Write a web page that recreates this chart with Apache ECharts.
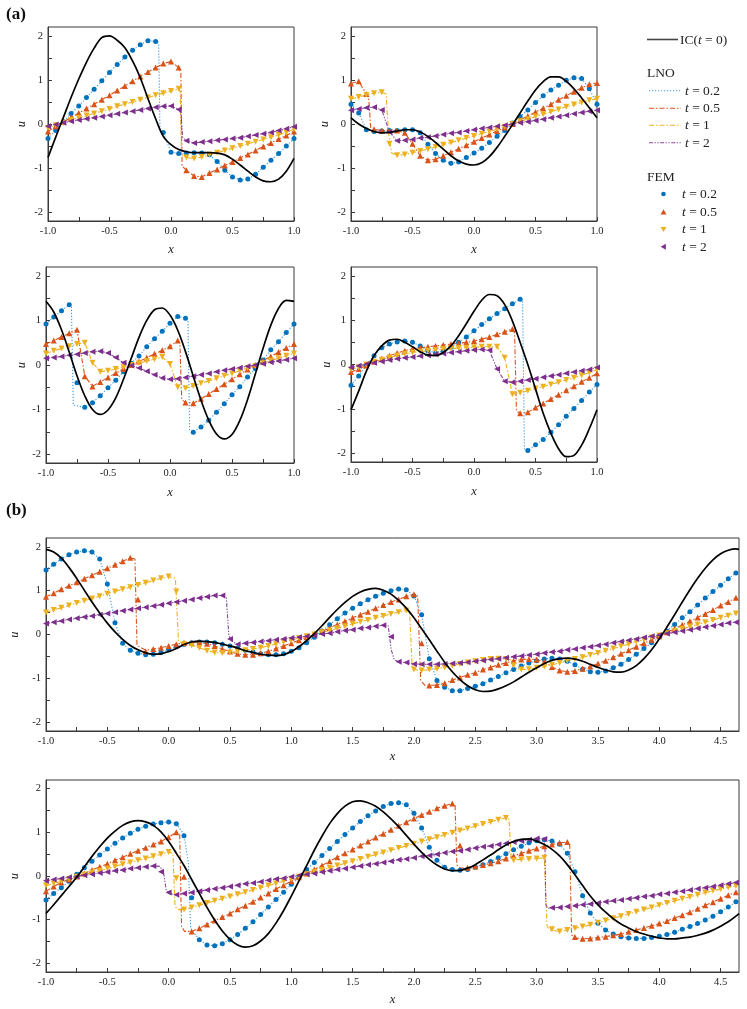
<!DOCTYPE html>
<html>
<head>
<meta charset="utf-8">
<script src="https://cdn.jsdelivr.net/npm/echarts@6/dist/echarts.min.js"></script>
<style>
html,body{margin:0;padding:0;background:#fff;}
#chart{width:747px;height:1009px;}
</style>
</head>
<body>
<div id="chart"></div>
<script>
// ---------------- DATA ----------------
// x sampling grid of the FEM markers (panel a: [-1,1], panel b: [-1,4.65])
const xTop = [-1,-0.9375,-0.875,-0.8125,-0.75,-0.6875,-0.625,-0.5625,-0.5,-0.4375,-0.375,-0.3125,-0.25,-0.1875,-0.125,-0.0625,0,0.0625,0.125,0.1875,0.25,0.3125,0.375,0.4375,0.5,0.5625,0.625,0.6875,0.75,0.8125,0.875,0.9375,1];
const xBot = [-1,-0.9375,-0.875,-0.8125,-0.75,-0.6875,-0.625,-0.5625,-0.5,-0.4375,-0.375,-0.3125,-0.25,-0.1875,-0.125,-0.0625,0,0.0625,0.125,0.1875,0.25,0.3125,0.375,0.4375,0.5,0.5625,0.625,0.6875,0.75,0.8125,0.875,0.9375,1,1.0625,1.125,1.1875,1.25,1.3125,1.375,1.4375,1.5,1.5625,1.625,1.6875,1.75,1.8125,1.875,1.9375,2,2.0625,2.125,2.1875,2.25,2.3125,2.375,2.4375,2.5,2.5625,2.625,2.6875,2.75,2.8125,2.875,2.9375,3,3.0625,3.125,3.1875,3.25,3.3125,3.375,3.4375,3.5,3.5625,3.625,3.6875,3.75,3.8125,3.875,3.9375,4,4.0625,4.125,4.1875,4.25,4.3125,4.375,4.4375,4.5,4.5625,4.625];
const xBotEnd = 4.65;

// tick values / tick labels
const xTicksTop = [-1,-0.75,-0.5,-0.25,0,0.25,0.5,0.75,1];
const xLabelsTop = [-1,-0.5,0,0.5,1];
const xTicksBot = [-1,-0.75,-0.5,-0.25,0,0.25,0.5,0.75,1,1.25,1.5,1.75,2,2.25,2.5,2.75,3,3.25,3.5,3.75,4,4.25,4.5];
const xLabelsBot = [-1,-0.5,0,0.5,1,1.5,2,2.5,3,3.5,4,4.5];
const yTicks = [-2,-1.5,-1,-0.5,0,0.5,1,1.5,2];
const yLabels = [-2,-1,0,1,2];

// ---- panel (a), top-left ----
const A1_IC  = [-0.76,-0.30,0.15,0.60,1.02,1.40,1.72,1.96,2.00,1.90,1.73,1.43,1.05,0.58,0.12,-0.28,-0.47,-0.58,-0.63,-0.65,-0.65,-0.65,-0.66,-0.70,-0.80,-0.93,-1.07,-1.20,-1.29,-1.31,-1.25,-1.07,-0.78];
const A1_T02 = [-0.33,-0.15,0.05,0.24,0.41,0.60,0.79,0.98,1.17,1.35,1.52,1.67,1.80,1.89,1.87,-0.19,-0.64,-0.67,-0.66,-0.65,-0.66,-0.70,-0.85,-1.05,-1.20,-1.27,-1.25,-1.14,-0.98,-0.82,-0.67,-0.50,-0.33];
const A1_T05 = [-0.17,-0.05,0.05,0.15,0.25,0.35,0.45,0.55,0.65,0.76,0.86,0.97,1.08,1.18,1.28,1.37,1.42,1.28,-1.05,-1.18,-1.20,-1.11,-1.03,-0.94,-0.86,-0.77,-0.69,-0.60,-0.51,-0.43,-0.34,-0.26,-0.17];
const A1_T1  = [-0.09,-0.03,0.03,0.09,0.14,0.19,0.24,0.29,0.34,0.40,0.45,0.50,0.55,0.60,0.65,0.70,0.75,0.80,-0.76,-0.78,-0.75,-0.70,-0.65,-0.60,-0.55,-0.50,-0.45,-0.40,-0.35,-0.30,-0.25,-0.19,-0.12];
const A1_T2  = [-0.05,-0.01,0.03,0.06,0.09,0.12,0.14,0.17,0.20,0.23,0.26,0.29,0.32,0.35,0.38,0.40,0.41,0.33,-0.38,-0.43,-0.41,-0.39,-0.37,-0.35,-0.33,-0.31,-0.28,-0.25,-0.22,-0.19,-0.15,-0.11,-0.06];

// ---- panel (a), top-right ----
const A2_IC  = [0.14,0.00,-0.10,-0.17,-0.20,-0.19,-0.16,-0.13,-0.13,-0.18,-0.28,-0.42,-0.57,-0.72,-0.84,-0.91,-0.93,-0.88,-0.74,-0.53,-0.28,-0.02,0.25,0.52,0.77,0.96,1.07,1.07,0.97,0.80,0.59,0.37,0.14];
const A2_T02 = [0.45,0.25,-0.13,-0.17,-0.16,-0.15,-0.15,-0.13,-0.13,-0.20,-0.46,-0.67,-0.82,-0.89,-0.86,-0.76,-0.66,-0.55,-0.42,-0.28,-0.15,0.02,0.17,0.32,0.49,0.64,0.77,0.88,0.99,1.05,1.03,0.80,0.45];
const A2_T05 = [0.92,0.97,0.68,-0.12,-0.15,-0.15,-0.15,-0.20,-0.45,-0.72,-0.82,-0.80,-0.72,-0.64,-0.56,-0.48,-0.40,-0.32,-0.24,-0.16,-0.08,0.00,0.09,0.18,0.27,0.36,0.45,0.55,0.64,0.73,0.82,0.90,0.93];
const A2_T1  = [0.57,0.61,0.66,0.70,0.72,-0.45,-0.71,-0.69,-0.65,-0.61,-0.57,-0.52,-0.47,-0.42,-0.37,-0.32,-0.27,-0.22,-0.17,-0.12,-0.06,0.00,0.06,0.11,0.17,0.22,0.28,0.33,0.39,0.44,0.49,0.54,0.57];
const A2_T2  = [0.31,0.34,0.37,0.38,0.32,-0.18,-0.38,-0.37,-0.35,-0.32,-0.30,-0.27,-0.24,-0.21,-0.19,-0.16,-0.13,-0.10,-0.08,-0.05,-0.03,0.00,0.03,0.05,0.08,0.11,0.14,0.17,0.20,0.23,0.26,0.29,0.31];

// ---- panel (a), bottom-left ----
const A3_IC  = [1.43,1.19,0.79,0.29,-0.24,-0.69,-1.00,-1.11,-1.01,-0.74,-0.32,0.15,0.62,1.00,1.24,1.28,1.12,0.78,0.30,-0.25,-0.79,-1.24,-1.55,-1.66,-1.56,-1.25,-0.78,-0.21,0.37,0.89,1.27,1.45,1.43];
const A3_T02 = [0.92,1.08,1.22,1.35,-0.40,-0.95,-0.85,-0.69,-0.51,-0.34,-0.15,0.04,0.20,0.41,0.59,0.76,0.94,1.09,1.05,-1.51,-1.39,-1.24,-1.06,-0.87,-0.67,-0.49,-0.27,-0.08,0.11,0.34,0.52,0.73,0.92];
const A3_T05 = [0.47,0.55,0.63,0.71,0.79,-0.25,-0.48,-0.38,-0.28,-0.18,-0.09,0.00,0.08,0.16,0.25,0.33,0.42,0.55,-0.84,-0.86,-0.76,-0.65,-0.54,-0.43,-0.32,-0.21,-0.10,0.00,0.10,0.19,0.29,0.38,0.47];
const A3_T1  = [0.26,0.32,0.37,0.42,0.47,0.50,0.05,-0.15,-0.13,-0.09,-0.05,0.00,0.04,0.09,0.13,0.18,0.02,-0.50,-0.52,-0.47,-0.41,-0.36,-0.30,-0.24,-0.19,-0.13,-0.07,-0.02,0.04,0.10,0.15,0.21,0.26];
const A3_T2  = [0.15,0.17,0.19,0.22,0.24,0.27,0.30,0.31,0.27,0.17,0.05,-0.01,-0.07,-0.14,-0.22,-0.29,-0.32,-0.31,-0.28,-0.25,-0.22,-0.19,-0.15,-0.12,-0.09,-0.06,-0.03,0.00,0.03,0.06,0.09,0.12,0.15];

// ---- panel (a), bottom-right ----
const A4_IC  = [-1.02,-0.60,-0.15,0.20,0.42,0.55,0.57,0.50,0.40,0.29,0.21,0.20,0.27,0.42,0.65,0.92,1.20,1.45,1.58,1.55,1.35,0.98,0.50,0.00,-0.55,-1.10,-1.55,-1.90,-2.08,-2.05,-1.82,-1.45,-1.02];
const A4_T02 = [-0.47,-0.26,-0.02,0.20,0.38,0.46,0.51,0.53,0.50,0.42,0.31,0.26,0.30,0.39,0.50,0.62,0.76,0.90,1.03,1.15,1.26,1.37,1.47,-1.94,-1.81,-1.69,-1.53,-1.36,-1.17,-0.99,-0.81,-0.62,-0.45];
const A4_T05 = [-0.17,-0.10,-0.02,0.06,0.13,0.20,0.26,0.31,0.35,0.38,0.40,0.42,0.44,0.46,0.48,0.50,0.53,0.57,0.62,0.68,0.74,0.80,-1.10,-1.08,-0.97,-0.88,-0.78,-0.68,-0.58,-0.49,-0.39,-0.30,-0.20];
const A4_T1  = [-0.11,-0.06,0.00,0.06,0.11,0.16,0.20,0.24,0.27,0.29,0.31,0.33,0.35,0.36,0.37,0.38,0.39,0.40,0.40,0.40,0.15,-0.67,-0.64,-0.59,-0.54,-0.50,-0.45,-0.40,-0.35,-0.30,-0.24,-0.18,-0.11];
const A4_T2  = [-0.07,-0.03,0.01,0.04,0.07,0.10,0.13,0.15,0.17,0.19,0.21,0.23,0.25,0.27,0.29,0.31,0.33,0.34,0.32,-0.10,-0.38,-0.40,-0.38,-0.35,-0.32,-0.29,-0.26,-0.23,-0.20,-0.17,-0.14,-0.11,-0.07];

// ---- panel (b), upper ----  (IC has one more sample at x = 4.65)
const B1_IC  = [1.94,1.88,1.74,1.53,1.28,1.01,0.74,0.49,0.26,0.06,-0.11,-0.25,-0.35,-0.42,-0.45,
  -0.44,-0.39,-0.32,-0.23,-0.17,-0.15,
  -0.16,-0.18,-0.22,-0.26,-0.31,-0.37,-0.41,-0.45,-0.47,-0.48,
  -0.46,-0.39,-0.28,-0.14,0.02,0.20,0.39,0.57,0.73,0.87,0.97,1.03,
  1.05,1.01,0.92,0.78,0.60,0.38,0.13,-0.12,-0.38,-0.63,-0.85,-1.03,-1.17,-1.26,-1.30,
  -1.29,-1.24,-1.17,-1.08,-0.97,-0.86,-0.76,-0.66,-0.59,-0.55,
  -0.54,-0.56,-0.61,-0.68,-0.75,-0.81,-0.85,
  -0.86,-0.81,-0.71,-0.55,-0.35,-0.10,0.17,0.45,0.74,1.02,1.28,1.51,1.70,1.84,1.92,1.95,
  1.94];
const B1_T02 = [1.47,1.60,1.72,1.82,1.88,1.91,1.88,1.72,1.15,0.27,-0.20,-0.36,-0.43,-0.46,-0.45,-0.41,-0.35,
  -0.28,-0.23,-0.19,-0.17,-0.17,-0.19,-0.22,-0.26,-0.31,-0.36,-0.40,-0.44,-0.46,-0.46,-0.44,-0.38,
  -0.30,-0.19,-0.06,0.08,0.22,0.36,0.49,0.60,0.70,0.79,0.87,0.94,1.00,1.04,1.02,0.88,
  0.45,-0.55,-1.05,-1.20,-1.28,-1.28,-1.23,-1.18,-1.12,-1.04,-0.96,-0.87,-0.80,-0.72,-0.65,
  -0.60,-0.56,-0.54,-0.56,-0.61,-0.69,-0.79,-0.85,-0.86,-0.83,-0.76,-0.68,-0.57,-0.45,-0.32,-0.19,-0.06,0.08,0.23,0.38,0.52,0.67,0.83,0.98,1.12,1.27,1.40];
const B1_T05 = [0.86,0.94,1.03,1.11,1.19,1.27,1.35,1.43,1.51,1.59,1.67,1.75,
  0.80,-0.38,
  -0.33,-0.30,-0.26,-0.22,-0.19,-0.18,-0.18,-0.21,-0.26,-0.33,-0.39,-0.44,-0.46,-0.46,-0.43,-0.38,-0.32,-0.26,-0.20,
  -0.13,-0.06,0.01,0.07,0.15,0.23,0.30,0.38,0.45,0.52,0.60,0.67,0.74,0.80,0.87,0.92,
  -0.20,-1.16,-1.15,-1.11,-1.04,-0.98,-0.92,-0.87,-0.80,-0.75,-0.69,-0.65,-0.60,-0.57,-0.56,
  -0.57,-0.62,-0.74,-0.82,-0.85,-0.83,-0.78,-0.73,-0.66,-0.60,-0.52,-0.44,-0.36,-0.28,-0.20,-0.12,-0.04,0.05,0.13,0.22,0.30,0.39,0.47,0.56,0.66,0.74,0.84];
const B1_T1  = [0.50,0.56,0.61,0.66,0.72,0.77,0.82,0.87,0.93,0.98,1.03,1.08,1.13,1.18,1.23,1.28,1.32,
  0.98,
  -0.22,-0.25,-0.30,-0.37,-0.41,-0.42,-0.41,-0.39,-0.36,-0.33,-0.30,-0.26,-0.22,-0.17,-0.13,
  -0.08,-0.04,0.00,0.05,0.09,0.14,0.19,0.24,0.29,0.33,0.38,0.42,0.47,0.51,0.55,
  -0.80,-0.82,
  -0.80,-0.78,-0.75,-0.71,-0.67,-0.64,-0.61,-0.58,-0.56,-0.55,-0.56,
  -0.70,
  -0.80,-0.79,-0.76,-0.73,-0.69,-0.65,-0.60,-0.56,-0.52,-0.47,-0.42,-0.37,-0.32,-0.27,-0.22,-0.16,-0.12,-0.07,-0.02,0.03,0.08,0.13,0.18,0.23,0.28,0.33,0.38,0.43,0.48];
const B1_T2  = [0.25,0.28,0.31,0.34,0.37,0.40,0.42,0.45,0.48,0.51,0.54,0.57,0.60,0.62,0.65,0.68,0.71,0.74,0.77,0.80,0.83,0.86,0.89,0.89,
  -0.10,
  -0.22,-0.20,-0.18,-0.16,-0.14,-0.12,-0.10,-0.08,-0.06,-0.04,-0.02,0.01,0.03,0.06,0.09,0.11,0.14,0.16,0.19,0.21,
  -0.05,
  -0.62,-0.64,-0.67,-0.68,-0.68,-0.68,-0.67,-0.66,-0.65,-0.63,-0.61,-0.59,-0.57,-0.55,-0.53,-0.51,-0.49,-0.47,-0.45,-0.42,-0.40,-0.38,-0.35,-0.33,-0.30,-0.28,-0.25,-0.22,-0.19,-0.16,-0.13,-0.10,-0.07,-0.04,-0.01,0.02,0.05,0.08,0.11,0.14,0.17,0.20,0.23,0.26,0.28];

// ---- panel (b), lower ----
const B2_IC  = [-0.86,-0.66,-0.45,-0.24,-0.03,0.21,0.45,0.67,0.87,1.03,1.16,1.24,1.27,
  1.24,1.16,1.01,0.79,0.52,0.24,-0.08,-0.40,-0.72,-1.01,-1.26,-1.45,-1.58,-1.63,
  -1.60,-1.49,-1.32,-1.08,-0.79,-0.46,-0.11,0.24,0.59,0.91,1.20,1.43,1.60,1.70,
  1.72,1.68,1.60,1.47,1.31,1.13,0.93,0.73,0.54,0.38,0.25,0.16,0.12,
  0.13,0.18,0.26,0.37,0.48,0.60,0.71,0.79,0.84,0.85,
  0.80,0.72,0.61,0.46,0.26,0.03,-0.22,-0.46,-0.66,-0.83,-0.98,-1.10,-1.19,-1.27,-1.33,-1.38,-1.42,-1.44,-1.44,-1.42,-1.40,-1.36,-1.31,-1.24,-1.15,-1.05,-0.92,
  -0.86];
const B2_T02 = [-0.55,-0.40,-0.27,-0.12,0.04,0.19,0.34,0.48,0.62,0.75,
  0.87,0.98,1.07,1.14,1.19,1.22,1.24,1.20,0.92,-0.50,
  -1.46,-1.58,-1.60,-1.55,-1.46,-1.34,-1.20,-1.05,-0.88,-0.71,
  -0.54,-0.37,-0.19,-0.02,0.15,0.31,0.47,0.63,0.79,0.95,
  1.10,1.25,1.38,1.49,1.59,1.66,1.68,1.63,1.44,1.10,
  0.66,0.36,0.20,0.15,0.13,0.15,0.20,0.26,0.33,0.42,
  0.51,0.60,0.68,0.76,0.81,0.83,0.80,0.73,0.52,0.10,
  -0.45,-0.85,-1.08,-1.24,-1.33,-1.39,-1.42,-1.43,-1.43,-1.41,
  -1.38,-1.34,-1.29,-1.22,-1.16,-1.09,-1.01,-0.92,-0.82,-0.71,-0.59];
const B2_T05 = [-0.35,-0.24,-0.15,-0.08,-0.01,0.06,0.14,0.21,0.28,0.36,0.43,0.51,0.58,0.65,0.72,0.79,0.89,1.00,
  -0.02,
  -1.27,-1.20,-1.11,-1.02,-0.94,-0.86,-0.76,-0.68,-0.59,-0.49,-0.40,-0.30,-0.21,-0.12,-0.03,0.06,0.15,0.24,0.34,0.43,0.52,0.61,0.70,0.79,0.88,0.97,1.06,1.15,1.23,1.32,1.40,1.47,1.55,1.61,1.66,
  0.70,
  0.19,0.22,0.25,0.29,0.34,0.40,0.46,0.52,0.58,0.63,0.68,0.72,0.76,0.78,
  -1.40,-1.44,-1.43,-1.41,-1.39,-1.36,-1.33,-1.28,-1.24,-1.19,-1.14,-1.09,-1.03,-0.96,-0.90,-0.83,-0.75,-0.67,-0.60,-0.52,-0.44,-0.37];
const B2_T1  = [-0.22,-0.17,-0.12,-0.07,-0.02,0.03,0.08,0.12,0.17,0.22,0.27,0.31,0.36,0.40,0.45,0.50,0.55,
  -0.05,
  -0.77,-0.72,-0.67,-0.62,-0.57,-0.52,-0.47,-0.42,-0.37,-0.32,-0.27,-0.22,-0.17,-0.12,-0.07,-0.02,
  0.04,0.09,0.14,0.19,0.24,0.29,0.34,0.39,0.44,0.49,0.54,0.59,0.64,0.69,0.74,0.79,0.84,0.89,0.94,0.99,1.04,1.09,1.14,1.19,1.24,1.29,1.33,
  0.36,0.38,0.39,0.40,0.42,
  -1.22,-1.27,-1.24,-1.20,-1.16,-1.12,-1.07,-1.02,-0.97,-0.92,-0.87,-0.82,-0.77,-0.72,-0.67,-0.62,-0.57,-0.52,-0.48,-0.43,-0.38,-0.34,-0.30,-0.26,-0.23];
const B2_T2  = [-0.11,-0.08,-0.06,-0.03,-0.01,0.02,0.04,0.07,0.09,0.12,0.14,0.17,0.19,0.21,0.23,
  0.10,
  -0.38,-0.43,-0.40,-0.38,-0.35,-0.32,-0.29,-0.27,-0.24,-0.21,-0.18,-0.16,-0.13,-0.10,-0.07,-0.05,-0.02,0.01,0.04,0.06,0.09,0.12,0.15,0.17,0.20,0.23,0.26,0.28,0.31,0.34,0.37,0.39,0.42,0.45,0.47,0.50,0.53,0.56,0.58,0.61,0.64,0.67,0.69,0.72,0.75,0.78,0.80,0.83,0.86,0.85,
  -0.73,-0.72,-0.70,-0.68,-0.66,-0.64,-0.62,-0.59,-0.57,-0.55,-0.52,-0.50,-0.47,-0.45,-0.42,-0.40,-0.37,-0.35,-0.32,-0.29,-0.27,-0.24,-0.21,-0.18,-0.15];

// ---- LNO shock fronts (the LNO curves are sharper than the FEM samples there) ----
const A1_T02_LNO = [[[-0.125,1.87],[-0.1,1.83],[-0.09,-0.12],[-0.0625,-0.19]]];
const A1_T05_LNO = [[[0.0625,1.28],[0.08,1.15],[0.09,-0.95],[0.125,-1.05]]];
const A1_T1_LNO  = [[[0.0625,0.80],[0.075,0.72],[0.085,-0.70],[0.125,-0.76]]];
const A1_T2_LNO  = [[[0.0625,0.33],[0.08,0.25],[0.095,-0.30],[0.125,-0.38]]];
const A2_T05_LNO = [[[-0.875,0.68],[-0.855,0.55],[-0.84,-0.08],[-0.8125,-0.12]]];
const A2_T1_LNO  = [[[-0.75,0.72],[-0.715,0.68],[-0.695,-0.2],[-0.67,-0.66],[-0.625,-0.71]]];
const A3_T02_LNO = [[[-0.8125,1.35],[-0.795,1.30],[-0.78,-0.90],[-0.6875,-0.95]], [[0.125,1.05],[0.145,0.98],[0.158,-1.45],[0.1875,-1.51]]];
const A3_T05_LNO = [[[0.0625,0.55],[0.08,0.48],[0.095,-0.78],[0.125,-0.84]]];
const A4_T02_LNO = [[[0.375,1.47],[0.395,1.42],[0.41,-1.90],[0.4375,-1.94]]];
const A4_T05_LNO = [[[0.3125,0.80],[0.33,0.72],[0.345,-1.05],[0.375,-1.10]]];
const B1_T05_LNO = [[[-0.3125,1.75],[-0.275,1.72],[-0.258,-0.25],[-0.1875,-0.36]], [[2.0,0.92],[2.03,0.88],[2.055,-1.05],[2.09,-1.16],[2.125,-1.16]]];
const B1_T1_LNO  = [[[0,1.32],[0.055,1.28],[0.08,-0.15],[0.125,-0.22]], [[1.9375,0.55],[1.965,0.52],[1.985,-0.75],[2.03,-0.82],[2.0625,-0.82]], [[2.75,-0.56],[2.79,-0.58],[2.81,-0.76],[2.875,-0.80]]];
const B1_T2_LNO  = [[[0.4375,0.89],[0.47,0.84],[0.49,0.0],[0.51,-0.15],[0.5625,-0.22]], [[1.75,0.21],[1.79,0.20],[1.815,-0.35],[1.84,-0.58],[1.875,-0.62]]];
const B2_T02_LNO = [[[0.0625,1.20],[0.125,0.95],[0.16,0.3],[0.18,-1.2],[0.25,-1.46]]];
const B2_T05_LNO = [[[0.0625,1.0],[0.09,0.95],[0.105,-1.15],[0.13,-1.27],[0.1875,-1.27]], [[2.3125,1.66],[2.335,1.62],[2.35,0.25],[2.38,0.18],[2.4375,0.19]], [[3.25,0.78],[3.27,0.76],[3.285,-1.35],[3.3125,-1.42]]];
const B2_T1_LNO  = [[[0,0.55],[0.035,0.52],[0.052,-0.70],[0.08,-0.77],[0.125,-0.77]], [[2.75,1.33],[2.775,1.30],[2.792,0.45],[2.81,0.37],[2.875,0.38]], [[3.0625,0.42],[3.07,0.40],[3.085,-1.15],[3.11,-1.24],[3.1875,-1.27]]];
const B2_T2_LNO  = [[[-0.125,0.23],[-0.07,0.22],[-0.04,0.05],[-0.02,-0.32],[0.0,-0.40]], [[3.0,0.86],[3.05,0.86],[3.068,0.70],[3.075,-0.65],[3.09,-0.74],[3.125,-0.73]]];

// ---------------- STYLE / LAYOUT ----------------
const FONT = '"Liberation Serif","Times New Roman",serif';
const AXIS_COLOR = '#3a3a3a';
const LNO_STYLE = [
  {color:'#3d9be0', type:[1.2,1.8], width:1.1},
  {color:'#D95319', type:[5,2,1.5,2], width:1.1},
  {color:'#EDB120', type:[5,2,1.5,2], width:1.1},
  {color:'#8a4699', type:[4,1.5,1.3,1.5,1.3,1.5], width:1.1}
];
const FEM_STYLE = [
  {color:'#0072BD', symbol:'circle', size:5},
  {color:'#D95319', symbol:'triangle', size:6},
  {color:'#EDB120', symbol:'path://M0,0L10,0L5,9Z', size:6},
  {color:'#7E2F8E', symbol:'path://M9,0L9,10L0,5Z', size:6}
];
const xBotIC = xBot.concat([xBotEnd]);

const panels = [
  {box:{left:48, top:27, width:246, height:194}, xs:xTop, xsIC:xTop, ic:A1_IC, sol:[A1_T02,A1_T05,A1_T1,A1_T2], lno:[A1_T02_LNO,A1_T05_LNO,A1_T1_LNO,A1_T2_LNO], xmax:1, xt:xTicksTop, xl:xLabelsTop, gx:22, gy:20},
  {box:{left:351, top:27, width:246, height:194}, xs:xTop, xsIC:xTop, ic:A2_IC, sol:[A2_T02,A2_T05,A2_T1,A2_T2], lno:[null,A2_T05_LNO,A2_T1_LNO,null], xmax:1, xt:xTicksTop, xl:xLabelsTop, gx:22, gy:20},
  {box:{left:46, top:267, width:248, height:196}, xs:xTop, xsIC:xTop, ic:A3_IC, sol:[A3_T02,A3_T05,A3_T1,A3_T2], lno:[A3_T02_LNO,A3_T05_LNO,null,null], xmax:1, xt:xTicksTop, xl:xLabelsTop, gx:23, gy:18},
  {box:{left:351, top:267, width:246, height:195}, xs:xTop, xsIC:xTop, ic:A4_IC, sol:[A4_T02,A4_T05,A4_T1,A4_T2], lno:[A4_T02_LNO,A4_T05_LNO,null,null], xmax:1, xt:xTicksTop, xl:xLabelsTop, gx:23, gy:18},
  {box:{left:46, top:538, width:693, height:193}, xs:xBot, xsIC:xBotIC, ic:B1_IC, sol:[B1_T02,B1_T05,B1_T1,B1_T2], lno:[null,B1_T05_LNO,B1_T1_LNO,B1_T2_LNO], xmax:xBotEnd, xt:xTicksBot, xl:xLabelsBot, gx:19, gy:17},
  {box:{left:46, top:780, width:693, height:192}, xs:xBot, xsIC:xBotIC, ic:B2_IC, sol:[B2_T02,B2_T05,B2_T1,B2_T2], lno:[B2_T02_LNO,B2_T05_LNO,B2_T1_LNO,B2_T2_LNO], xmax:xBotEnd, xt:xTicksBot, xl:xLabelsBot, gx:21, gy:18}
];

function pts(xs, ys){ return xs.map((x,i)=>[x, ys[i]]); }
// LNO line = sampled values, with the read shock-front profiles replacing the samples they cover
function lnoLine(xs, ys, fronts){
  let arr = pts(xs, ys);
  if (!fronts) return arr;
  arr = arr.filter(p => !fronts.some(f => p[0] >= f[0][0]-0.02 && p[0] <= f[f.length-1][0]+0.02));
  fronts.forEach(f => { arr = arr.concat(f); });
  return arr.sort((a,b)=>a[0]-b[0]);
}

const grid = [], xAxis = [], yAxis = [], series = [];
panels.forEach((p, k) => {
  grid.push(Object.assign({show:true, borderColor:AXIS_COLOR, borderWidth:1, backgroundColor:'rgba(0,0,0,0)'}, p.box));
  xAxis.push({
    gridIndex:k, type:'value', min:-1, max:p.xmax,
    axisLine:{show:true, onZero:false, lineStyle:{color:AXIS_COLOR, width:1}},
    axisTick:{show:true, inside:true, length:4, customValues:p.xt, lineStyle:{color:AXIS_COLOR, width:1}},
    axisLabel:{customValues:p.xl, formatter:v=>Number(v).toFixed(1), fontFamily:FONT, fontSize:10.5, color:'#222', margin:5},
    splitLine:{show:false},
    name:'x', nameLocation:'middle', nameGap:p.gx,
    nameTextStyle:{fontFamily:FONT, fontStyle:'italic', fontSize:12.5, color:'#222'}
  });
  yAxis.push({
    gridIndex:k, type:'value', min:-2.2, max:2.2,
    axisLine:{show:true, onZero:false, lineStyle:{color:AXIS_COLOR, width:1}},
    axisTick:{show:true, inside:true, length:4, customValues:yTicks, lineStyle:{color:AXIS_COLOR, width:1}},
    axisLabel:{customValues:yLabels, formatter:v=>String(v), fontFamily:FONT, fontSize:10.5, color:'#222', margin:5},
    splitLine:{show:false},
    name:'u', nameLocation:'middle', nameGap:p.gy, nameRotate:90,
    nameTextStyle:{fontFamily:FONT, fontStyle:'italic', fontSize:12.5, color:'#222'}
  });
  p.sol.forEach((ys, j) => {
    series.push({
      type:'line', xAxisIndex:k, yAxisIndex:k, data:lnoLine(p.xs, ys, p.lno[j]),
      showSymbol:false, symbol:'none', z:2, silent:true,
      lineStyle:{color:LNO_STYLE[j].color, width:LNO_STYLE[j].width, type:LNO_STYLE[j].type}
    });
  });
  p.sol.forEach((ys, j) => {
    series.push({
      type:'scatter', xAxisIndex:k, yAxisIndex:k, data:pts(p.xs, ys),
      symbol:FEM_STYLE[j].symbol, symbolSize:FEM_STYLE[j].size, z:3, silent:true,
      itemStyle:{color:FEM_STYLE[j].color, opacity:1}
    });
  });
  series.push({
    type:'line', xAxisIndex:k, yAxisIndex:k, data:pts(p.xsIC, p.ic),
    showSymbol:false, symbol:'none', smooth:0.35, z:4, silent:true,
    lineStyle:{color:'#000', width:1.7}
  });
});

// legend (drawn as graphics)
const LEG_TXT = {fontFamily:FONT, fontSize:13.5, fill:'#222'};
function legText(x, y, t, isHeader){
  if (isHeader) return {type:'text', x:x, y:y, style:Object.assign({text:t, verticalAlign:'middle'}, LEG_TXT)};
  return {type:'text', x:x, y:y, style:{text:'{i|t}{n| = '+t+'}', verticalAlign:'middle',
    rich:{i:{fontFamily:FONT, fontSize:13.5, fontStyle:'italic', fill:'#222'}, n:{fontFamily:FONT, fontSize:13.5, fill:'#222'}}}};
}
const tLabels = ['0.2','0.5','1','2'];
const lnoY = [90.7,108.3,125.3,142.7];
const femY = [194,212,229.3,246.7];
const graphic = [
  {type:'text', x:6, y:15, style:{text:'(a)', fontFamily:FONT, fontSize:17, fontWeight:'bold', fill:'#111', verticalAlign:'middle'}},
  {type:'text', x:6, y:511, style:{text:'(b)', fontFamily:FONT, fontSize:17, fontWeight:'bold', fill:'#111', verticalAlign:'middle'}},
  {type:'line', shape:{x1:647, y1:39.5, x2:678, y2:39.5}, style:{stroke:'#444', lineWidth:1.6}},
  {type:'text', x:680, y:40, style:{text:'{n|IC(}{i|t}{n| = 0)}', verticalAlign:'middle',
    rich:{i:{fontFamily:FONT, fontSize:13.5, fontStyle:'italic', fill:'#222'}, n:{fontFamily:FONT, fontSize:13.5, fill:'#222'}}}},
  legText(647, 73.5, 'LNO', true),
  legText(647, 177, 'FEM', true)
];
tLabels.forEach((t, j) => {
  graphic.push({type:'line', shape:{x1:649, y1:lnoY[j], x2:681, y2:lnoY[j]},
    style:{stroke:LNO_STYLE[j].color, lineWidth:1.1, lineDash:LNO_STYLE[j].type}});
  graphic.push(legText(685, lnoY[j]+0.5, t, false));
  const cx = 663.5, cy = femY[j];
  let shape;
  if (j === 0) shape = {type:'circle', shape:{cx:cx, cy:cy, r:2.3}, style:{fill:FEM_STYLE[0].color}};
  else if (j === 1) shape = {type:'polygon', shape:{points:[[cx,cy-2.8],[cx+3,cy+2.4],[cx-3,cy+2.4]]}, style:{fill:FEM_STYLE[1].color}};
  else if (j === 2) shape = {type:'polygon', shape:{points:[[cx-3,cy-2.4],[cx+3,cy-2.4],[cx,cy+2.8]]}, style:{fill:FEM_STYLE[2].color}};
  else shape = {type:'polygon', shape:{points:[[cx+2.4,cy-3],[cx+2.4,cy+3],[cx-2.8,cy]]}, style:{fill:FEM_STYLE[3].color}};
  graphic.push(shape);
  graphic.push(legText(682, femY[j]+0.5, t, false));
});

const chart = echarts.init(document.getElementById('chart'), null, {renderer:'canvas', width:747, height:1009});
chart.setOption({
  backgroundColor:'#ffffff',
  animation:false,
  textStyle:{fontFamily:FONT},
  grid:grid, xAxis:xAxis, yAxis:yAxis, series:series, graphic:graphic
});
</script>
</body>
</html>
